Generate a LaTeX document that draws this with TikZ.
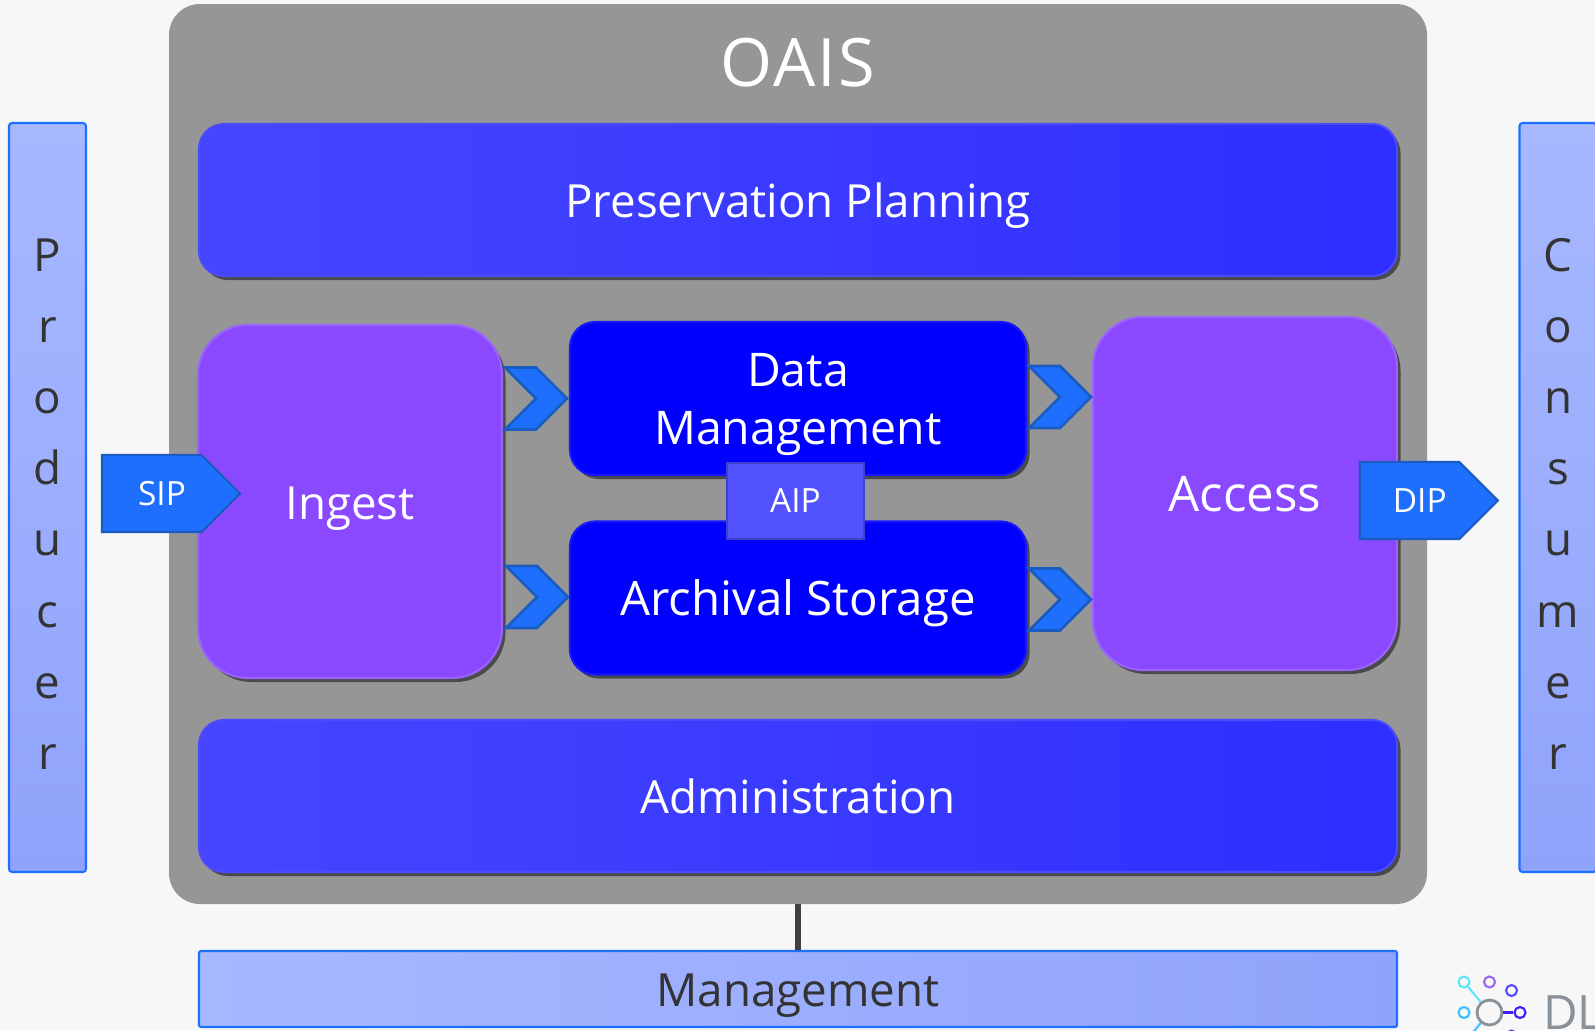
\documentclass[tikz,border=0pt]{standalone}
\usepackage{fontspec}
\setmainfont{Open Sans}
\usetikzlibrary{shapes.symbols,shadows}

\definecolor{pagebg}{HTML}{F7F7F7}
\definecolor{panelgray}{HTML}{969696}
\definecolor{barleft}{HTML}{4646FF}
\definecolor{barright}{HTML}{2E2EFF}
\definecolor{barline}{HTML}{4A4AFF}
\definecolor{funcfill}{HTML}{8A48FF}
\definecolor{funcline}{HTML}{9A63FF}
\definecolor{coreblue}{HTML}{0000FF}
\definecolor{coreline}{HTML}{1616FF}
\definecolor{pkgblue}{HTML}{1F6FFF}
\definecolor{pkgline}{HTML}{1A5CC0}
\definecolor{aipfill}{HTML}{5252FF}
\definecolor{aipline}{HTML}{4040CC}
\definecolor{sidetop}{HTML}{A8B8FF}
\definecolor{sidebottom}{HTML}{8FA3FB}
\definecolor{logogray}{HTML}{8A9299}
\definecolor{logocyan}{HTML}{5FE5FF}
\definecolor{logosky}{HTML}{3CC0FF}
\definecolor{logopurple}{HTML}{9A66F5}
\definecolor{logoblue}{HTML}{5A4DFF}
\definecolor{logoindigo}{HTML}{3D1FFF}

\tikzset{
    softshadow/.style={drop shadow={shadow xshift=.07cm,shadow yshift=-.08cm,opacity=.5,fill=black}},
    oneline/.style={text height=20pt, text depth=0pt},
    barbox/.style={draw=barline, line width=1.2pt, rounded corners=.5cm, left color=barleft, middle color=barright, right color=barright,
        minimum width=23.96cm, minimum height=3.04cm, text=white, font=\fontsize{26}{33}\selectfont, oneline, softshadow},
    funcbox/.style={draw=funcline, line width=1.2pt, rounded corners=1cm, fill=funcfill,
        minimum width=6.08cm, minimum height=7.06cm, text=white, font=\fontsize{26}{33}\selectfont, oneline, softshadow},
    corebox/.style={draw=coreline, line width=1.2pt, rounded corners=.5cm, fill=coreblue, align=center,
        minimum width=9.12cm, minimum height=3.06cm, text=white, font=\fontsize{26.4}{33}\selectfont, softshadow},
    sidebox/.style={draw=pkgblue, line width=1.2pt, rounded corners=.06cm, top color=sidetop, bottom color=sidebottom,
        minimum width=1.54cm, minimum height=14.98cm, inner xsep=0pt, align=center, text=black!80,
        font=\fontsize{26}{40.5}\selectfont},
    pkgarrow/.style={signal, signal to=east, signal pointer angle=90, draw=pkgline, line width=1.2pt, fill=pkgblue,
        minimum width=2.76cm, minimum height=1.54cm, inner sep=1pt, text=white, font=\fontsize{19}{22}\selectfont},
    chevron/.style={signal, signal from=west, signal to=east, signal pointer angle=90, draw=pkgline, line width=1.5pt,
        fill=pkgblue, minimum width=1.22cm, minimum height=1.24cm, inner sep=0pt},
    logodot/.style={circle, draw=#1, line width=1.2pt, minimum size=.22cm, inner sep=0pt},
}

\begin{document}
\begin{tikzpicture}[node distance=2cm]
        \useasboundingbox (0,0) rectangle (31.9,-20.6);
        \fill[pagebg] (0,0) rectangle (31.9,-20.6);

        \node (oais) [fill=panelgray, rounded corners=.62cm, minimum width=25.16cm, minimum height=18cm] at (15.96,-9.08) {};
        \node (mgmt) [draw=pkgblue, line width=1.2pt, rounded corners=.04cm, left color=sidetop, right color=sidebottom,
            minimum width=23.96cm, minimum height=1.52cm, text=black!80, font=\fontsize{26}{33}\selectfont, oneline, below of=oais, yshift=-8.7cm] {Management};
        \draw[line width=3pt, black!75] (oais) -- (mgmt);

        \node (title) [text=white, font=\fontsize{38}{40}\selectfont\addfontfeature{LetterSpace=3}, above of=oais, yshift=5.82cm] {OAIS};
        \node (planning) [barbox, above of=oais, yshift=3.08cm] {Preservation Planning};
        \node (admin) [barbox, below of=oais, yshift=-4.84cm] {Administration};

        \node (data) [corebox, above of=oais, yshift=-.89cm] {Data\\\smash{Management}};
        \node (archival) [corebox, oneline, font=\fontsize{27}{33}\selectfont, below of=data, yshift=-1.99cm] {Archival Storage};
        \node (aip) [draw=aipline, line width=1.5pt, fill=aipfill, minimum width=2.74cm, minimum height=1.52cm,
            text=white, font=\fontsize{19}{22}\selectfont, below of=data, xshift=-.05cm, yshift=-.05cm] {AIP};

        \node (ingest) [funcbox, left of=oais, xshift=-6.96cm, yshift=-.95cm] {Ingest};
        \node (access) [funcbox, font=\fontsize{28}{33}\selectfont, right of=oais, xshift=6.94cm, yshift=-.79cm] {Access};

        \node (producer) [sidebox, left of=ingest, xshift=-4.05cm, yshift=.08cm] {\rule{0pt}{26pt}P\\r\\o\\d\\u\\c\\e\\r};
        \node (consumer) [sidebox, right of=access, xshift=4.26cm, yshift=-.08cm] {\rule{0pt}{26pt}C\\o\\n\\s\\u\\m\\e\\r};

        \node (sip) [pkgarrow, left of=ingest, xshift=-1.965cm, yshift=.16cm] {\hspace{.41cm}SIP};
        \node (dip) [pkgarrow, right of=access, xshift=1.29cm, yshift=-.14cm] {\hspace{.41cm}DIP};

        \node (ingestdata) [chevron, left of=data, xshift=-3.24cm] {};
        \node (ingeststore) [chevron, left of=archival, xshift=-3.22cm, yshift=.02cm] {};
        \node (dataaccess) [chevron, right of=data, xshift=3.24cm, yshift=.03cm] {};
        \node (storeaccess) [chevron, right of=archival, xshift=3.24cm, yshift=-.03cm] {};

        % logo in the corner
        \node (hub) [circle, draw=logogray, line width=1.6pt, minimum size=.5cm, inner sep=0pt] at (29.79,-20.25) {};
        \node (dota) [logodot=logocyan] at (29.28,-19.64) {};
        \node (dotb) [logodot=logopurple] at (29.79,-19.64) {};
        \node (dotc) [logodot=logoblue] at (30.23,-19.81) {};
        \node (dotd) [logodot=logosky] at (29.28,-20.25) {};
        \node (dote) [logodot=logoindigo] at (30.4,-20.25) {};
        \node (dotf) [logodot=logoblue] at (30.23,-20.72) {};
        \coordinate (hubend) at (29.28,-20.86);
        \draw[logocyan, line width=1.2pt] (dota) -- (hub);
        \draw[logoindigo, line width=1.2pt] (dote) -- (hub);
        \draw[logosky, line width=1.2pt] (hubend) -- (hub);
        \node (logotext) [anchor=west, inner sep=0pt, text=logogray, font=\fontsize{27}{30}\selectfont] at (30.86,-20.25) {DL};
    \end{tikzpicture}
\end{document}
